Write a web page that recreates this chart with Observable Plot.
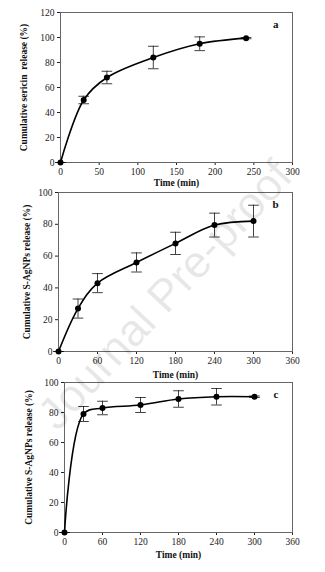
<!DOCTYPE html>
<html><head><meta charset="utf-8">
<script src="https://cdn.jsdelivr.net/npm/d3@7"></script>
<script src="https://cdn.jsdelivr.net/npm/@observablehq/plot@0.6"></script>
<style>
body{margin:0;background:#fff;}
#wrap{position:relative;width:325px;height:572px;overflow:hidden;background:#fff;}
.panel{position:absolute;left:0;}
.panel svg{overflow:visible;}
#wm{position:absolute;left:-45px;top:268px;width:420px;height:54px;line-height:54px;text-align:center;font-family:"Liberation Sans",Arial,sans-serif;font-size:45px;color:rgba(0,0,0,0.1);transform:rotate(-47deg);transform-origin:50% 50%;white-space:nowrap;pointer-events:none;}
</style>
</head><body>
<div id="wrap">
<div class="panel" id="pa" style="top:0px"></div>
<div class="panel" id="pb" style="top:186px"></div>
<div class="panel" id="pc" style="top:378px"></div>
<div id="wm">Journal Pre-proof</div>
</div>
<script>
// Panel a: sericin release
const timeA = [0, 30, 60, 120, 180, 240];
const releaseA = [0, 50, 68, 84, 95, 99.5];
const errA = [0, 3, 5, 9, 5.5, 0.5];
const xTicksA = [0, 50, 100, 150, 200, 250, 300];
const yTicksA = [0, 20, 40, 60, 80, 100, 120];

// Panel b: S-AgNPs release
const timeB = [0, 30, 60, 120, 180, 240, 300];
const releaseB = [0, 27, 43, 56, 68, 79.5, 82];
const errB = [0, 6, 6, 6, 7, 7.5, 10];

// Panel c: S-AgNPs release
const timeC = [0, 30, 60, 120, 180, 240, 300];
const releaseC = [0, 79, 83, 85, 89, 90.5, 90.5];
const errC = [0, 5, 4.5, 5, 5.5, 5.5, 0.5];

const xTicksBC = [0, 60, 120, 180, 240, 300, 360];
const yTicksBC = [0, 20, 40, 60, 80, 100];

const capSymbol = {draw(ctx, size) { const r = Math.sqrt(size); ctx.moveTo(-r, 0); ctx.lineTo(r, 0); }};

function panel(o) {
  const data = o.t.map((t, i) => ({t, v: o.v[i], lo: o.v[i] - o.e[i], hi: o.v[i] + o.e[i]}));
  return Plot.plot({
    width: 325, height: o.height,
    marginTop: o.mt, marginBottom: o.mb, marginLeft: o.ml, marginRight: o.mr,
    style: {fontFamily: "'Liberation Serif', 'Times New Roman', serif", fontSize: "9.5px", color: "#222", background: "transparent", overflow: "visible"},
    x: {domain: o.xd, ticks: o.xt, tickSize: 3, tickPadding: 3, label: null},
    y: {domain: o.yd, ticks: o.yt, tickSize: 3, tickPadding: 3, label: null},
    marks: [
      Plot.frame({stroke: "#666", strokeWidth: 1}),
      Plot.ruleX(data, {x: "t", y1: "lo", y2: "hi", stroke: "#111", strokeWidth: 0.8}),
      Plot.dot(data, {x: "t", y: "lo", symbol: capSymbol, r: 3, stroke: "#111", strokeWidth: 0.8}),
      Plot.dot(data, {x: "t", y: "hi", symbol: capSymbol, r: 3, stroke: "#111", strokeWidth: 0.8}),
      Plot.line(data, {x: "t", y: "v", curve: "catmull-rom", stroke: "#000", strokeWidth: 1.6}),
      Plot.dot(data, {x: "t", y: "v", r: 3, fill: "#000", stroke: "none"}),
      Plot.text([o.tag], {frameAnchor: "top-right", dx: -14, dy: 8, text: d => d, fontWeight: "bold", fontSize: 11, fill: "#111"}),
      Plot.text(["Time (min)"], {frameAnchor: "bottom", dy: o.xlo, text: d => d, fontWeight: "bold", fontSize: 9.5, fill: "#111"}),
      Plot.text([o.ylab], {frameAnchor: "left", textAnchor: "middle", dx: o.ylo, rotate: -90, text: d => d, fontWeight: "bold", fontSize: 9.5, fill: "#111"})
    ]
  });
}

document.getElementById("pa").append(panel({
  t: timeA, v: releaseA, e: errA, height: 188, mt: 12, mb: 26, ml: 60, mr: 33,
  xd: [0, 300], xt: xTicksA, yd: [0, 120], yt: yTicksA, tag: "a", xlo: 23, ylo: -37,
  ylab: "Cumulative sericin  release (%)"
}));
document.getElementById("pb").append(panel({
  t: timeB, v: releaseB, e: errB, height: 192, mt: 6, mb: 27, ml: 58, mr: 33,
  xd: [0, 360], xt: xTicksBC, yd: [0, 100], yt: yTicksBC, tag: "b", xlo: 26, ylo: -32,
  ylab: "Cumulative S-AgNPs release (%)"
}));
document.getElementById("pc").append(panel({
  t: timeC, v: releaseC, e: errC, height: 194, mt: 4, mb: 40, ml: 64, mr: 33,
  xd: [0, 360], xt: xTicksBC, yd: [0, 100], yt: yTicksBC, tag: "c", xlo: 25, ylo: -36,
  ylab: "Cumulative S-AgNPs release (%)"
}));
</script>
</body></html>
